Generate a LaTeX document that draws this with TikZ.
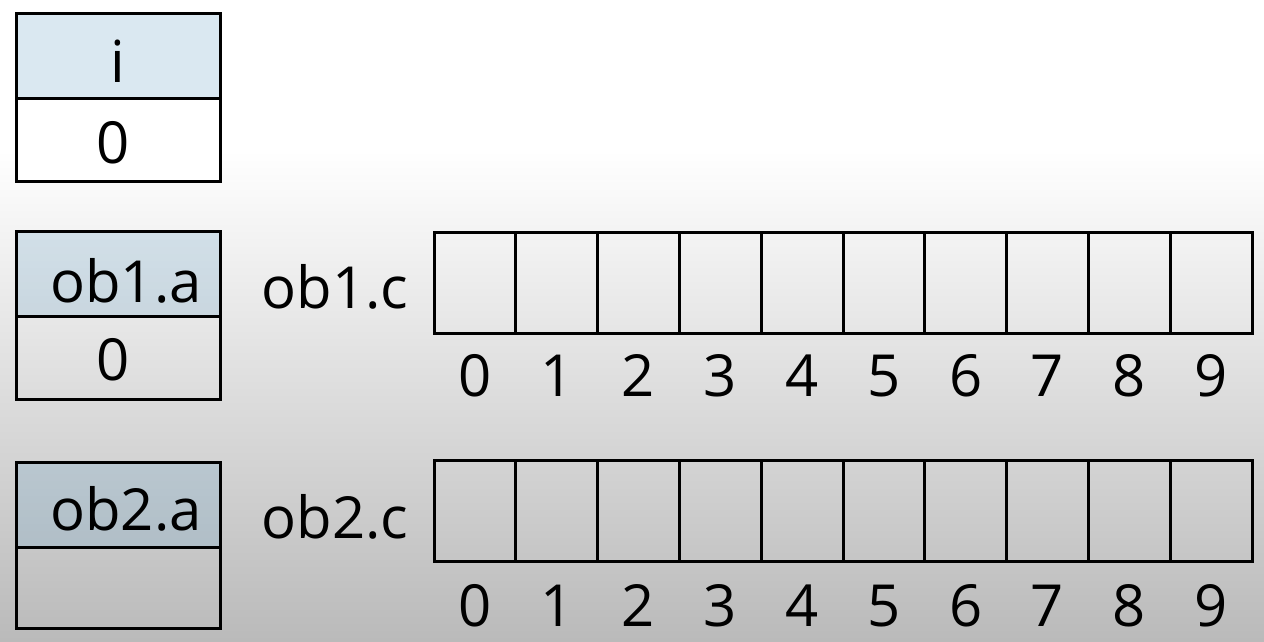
\documentclass[tikz,border=0pt]{standalone}
\usepackage{fontspec}
\setmainfont{Open Sans}
\definecolor{bgbot}{RGB}{186,186,186}
\definecolor{hdrblue}{RGB}{110,165,200}
\begin{document}
\begin{tikzpicture}[x=1pt,y=-1pt,
  box/.style={draw=black,line width=3pt,inner sep=0pt,minimum width=204pt},
  hdr/.style={box,minimum height=85pt,fill=hdrblue,fill opacity=0.25,draw opacity=1},
  cell/.style={draw=black,line width=3pt,inner sep=0pt,minimum width=81.8pt,minimum height=101pt},
  txt/.style={inner sep=0pt,anchor=base,font=\fontsize{58}{60}\selectfont},
]
\useasboundingbox (0,0) rectangle (1264,641);
\fill[white] (0,0) rectangle (1264,150);
\shade[top color=white,bottom color=bgbot] (0,150) rectangle (1264,641);
% i box
\node[hdr,minimum height=85pt] (ih) at (118,55.5) {};
\node[box,minimum height=83pt,fill=white] (iv) at (118,139.5) {};
\node[txt] (it) at (118,82) {i};
\node[txt] (ivt) at (113,163) {0};
% ob1 box
\node[hdr,minimum height=85pt] (ah) at (118,273.5) {};
\node[box,minimum height=83pt] (av) at (118,357.5) {};
\node[txt] (at) at (126,302) {ob1.a};
\node[txt] (avt) at (113,380) {0};
% ob2 box
\node[hdr,minimum height=85pt] (bh) at (118,504.5) {};
\node[box,minimum height=81pt] (bv) at (118,587.5) {};
\node[txt] (bt) at (126,530) {ob2.a};
% labels
\node[txt] (ac) at (335,308) {ob1.c};
\node[txt] (bc) at (335,538) {ob2.c};
% arrays
\foreach \k in {0,...,9}{
  \node[cell] (p\k) at ({434+81.8*\k+40.9},283) {};
  \node[txt] (pi\k) at ({434+81.8*\k+40.9},396.7) {\k};
  \node[cell] (q\k) at ({434+81.8*\k+40.9},511) {};
  \node[txt] (qi\k) at ({434+81.8*\k+40.9},626.7) {\k};
}
\end{tikzpicture}
\end{document}
